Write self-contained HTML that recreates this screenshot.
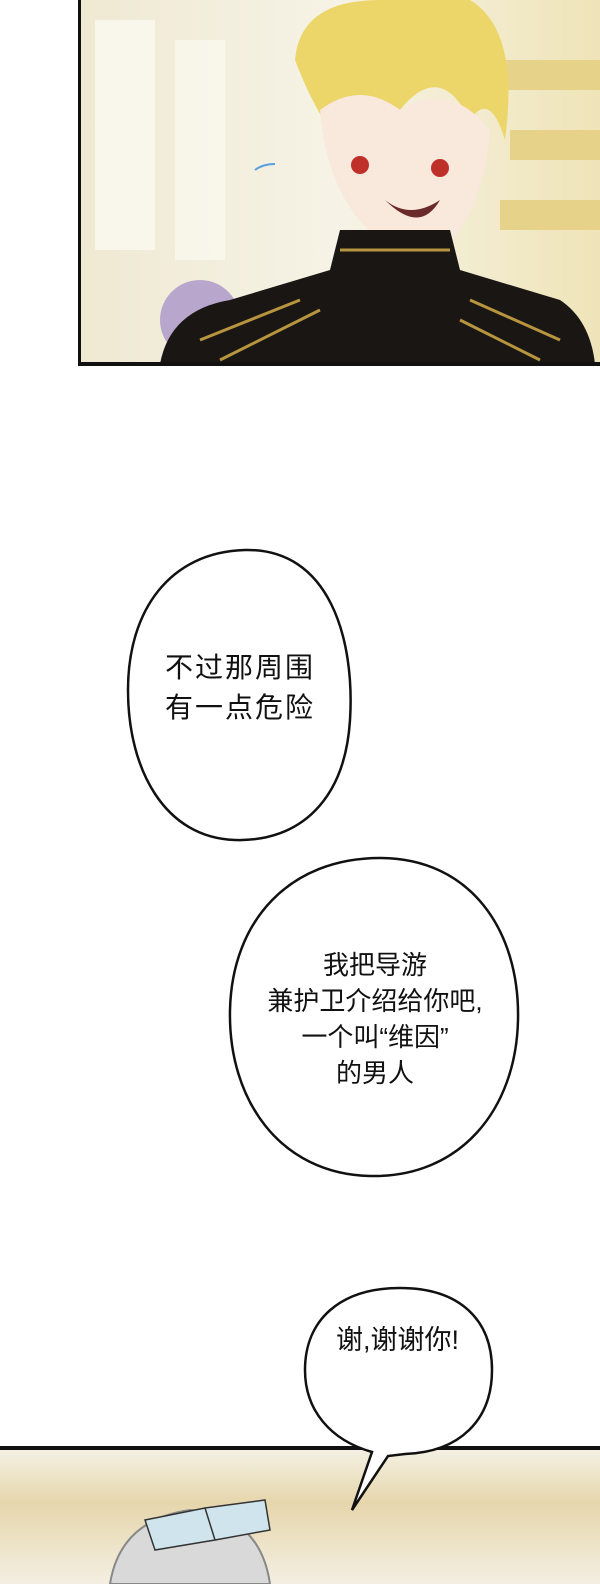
<!DOCTYPE html>
<html><head><meta charset="utf-8"><style>
html,body{margin:0;padding:0;background:#fff}
body{width:600px;height:1584px;position:relative;overflow:hidden;font-family:"Liberation Sans","Noto Sans CJK SC",sans-serif}
.t{position:absolute;color:#111;text-align:center;white-space:nowrap}
</style></head><body>
<svg width="600" height="1584" style="position:absolute;left:0;top:0">
<defs>
<linearGradient id="bg1" x1="0" y1="0" x2="1" y2="0">
<stop offset="0" stop-color="#efe9d2"/><stop offset="0.5" stop-color="#f6f3e6"/><stop offset="1" stop-color="#efe4b8"/></linearGradient>
<linearGradient id="bg2" x1="0" y1="0" x2="0" y2="1">
<stop offset="0" stop-color="#f4f1e4"/><stop offset="0.4" stop-color="#e6d6ac"/><stop offset="1" stop-color="#f3efe2"/></linearGradient>
</defs>
<rect x="78" y="0" width="522" height="364" fill="url(#bg1)"/>
<rect x="95" y="20" width="60" height="230" fill="#fbf9f0" opacity=".8"/>
<rect x="175" y="40" width="50" height="220" fill="#fbf9f0" opacity=".7"/>
<rect x="500" y="60" width="100" height="30" fill="#e7d28a"/>
<rect x="510" y="130" width="90" height="30" fill="#e7d28a"/>
<rect x="500" y="200" width="100" height="30" fill="#e7d28a"/>
<circle cx="200" cy="320" r="40" fill="#b9a6cc"/>
<path d="M295,60 Q300,0 380,0 L470,0 Q520,30 505,140 Q490,90 470,120 Q440,60 400,110 Q360,80 330,130 Q310,100 295,60Z" fill="#ecd66a"/>
<path d="M320,110 Q330,230 420,260 Q480,240 490,130 Q450,80 400,110 Q360,80 320,110Z" fill="#f9e8dc"/>
<circle cx="360" cy="165" r="9" fill="#c0302a"/><circle cx="440" cy="168" r="9" fill="#c0302a"/>
<path d="M385,200 Q410,220 440,200 Q420,235 385,200Z" fill="#6b2a2a"/>
<path d="M255,170 q8,-6 20,-6" stroke="#5aa0e0" stroke-width="2" fill="none"/>
<path d="M160,364 Q170,310 230,300 L330,270 L340,230 L450,230 L460,270 L560,300 Q590,320 595,364Z" fill="#1a1614"/>
<path d="M200,340 L300,300 M220,360 L320,310 M470,300 L560,340 M460,320 L540,360 M340,250 L450,250" stroke="#b7953e" stroke-width="3" fill="none"/>
<rect x="78" y="0" width="3" height="366" fill="#111"/>
<rect x="78" y="362" width="522" height="4" fill="#111"/>
<path d="M245,550 C330,548 355,640 350,720 C345,800 300,842 235,840 C165,838 128,770 128,690 C128,610 170,552 245,550Z" fill="#fff" stroke="#111" stroke-width="2.5"/>
<path d="M380,858 C470,858 520,930 518,1020 C516,1110 460,1178 370,1176 C280,1174 228,1100 230,1010 C232,920 290,858 380,858Z" fill="#fff" stroke="#111" stroke-width="2.5"/>
<rect x="0" y="1449" width="600" height="135" fill="url(#bg2)"/>
<path d="M110,1584 Q120,1520 190,1510 Q260,1515 270,1584Z" fill="#d9d9d9" stroke="#888" stroke-width="2"/>
<path d="M145,1520 L205,1508 L215,1540 L155,1550Z M205,1508 L265,1500 L270,1530 L215,1540Z" fill="#cfe4ec" stroke="#333" stroke-width="1.5"/>
<rect x="0" y="1446" width="600" height="4" fill="#111"/>
<path d="M400,1288 C460,1288 492,1320 492,1370 C492,1420 460,1452 405,1454 L388,1456 L352,1510 L372,1452 C330,1440 305,1410 305,1370 C305,1320 340,1288 400,1288Z" fill="#fff" stroke="#111" stroke-width="2.5"/>
</svg>
<div class="t" style="left:140px;top:648px;width:200px;font-size:28px;line-height:40px;letter-spacing:2px">不过那周围<br>有一点危险</div>
<div class="t" style="left:240px;top:947px;width:270px;font-size:26px;line-height:36px">我把导游<br>兼护卫介绍给你吧,<br>一个叫“维因”<br>的男人</div>
<div class="t" style="left:305px;top:1322px;width:185px;font-size:27px;line-height:36px">谢,谢谢你!</div>
</body></html>
